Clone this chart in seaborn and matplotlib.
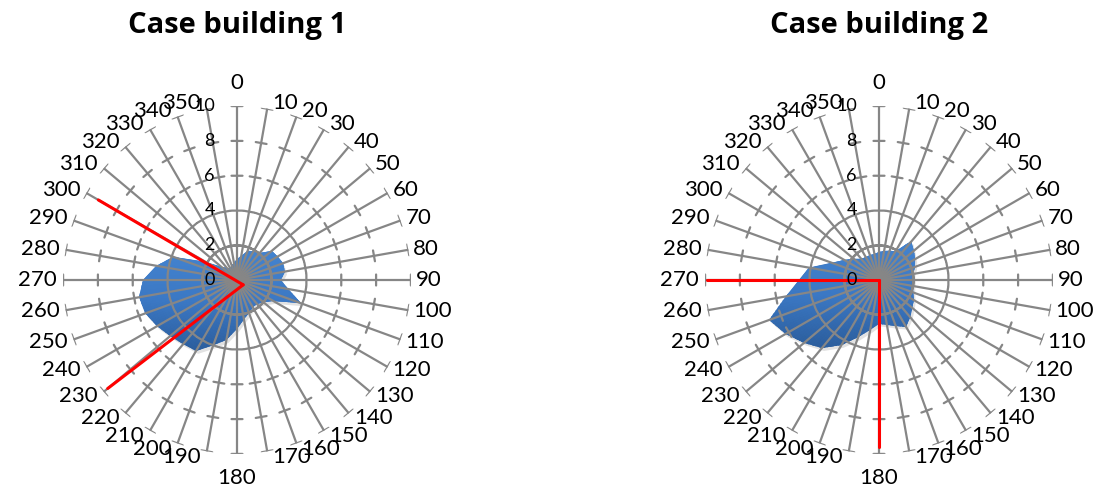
import numpy as np
import pandas as pd
import matplotlib
matplotlib.use("Agg")
import matplotlib.pyplot as plt
import matplotlib.transforms as mtransforms
from matplotlib.colors import LinearSegmentedColormap
import seaborn as sns

# wind directions (deg) and values
directions = list(range(0, 360, 10))
building_1 = [1.2, 1.4, 1.8, 1.9, 2.0, 2.6, 2.7, 2.8, 2.8, 2.5, 3.0, 3.9,
              2.4, 2.0, 1.8, 1.8, 2.0, 2.3, 2.8, 3.5, 4.0, 4.7, 4.8, 5.0,
              5.3, 5.6, 5.7, 5.4, 4.7, 3.9, 2.1, 1.2, 0.9, 0.8, 0.9, 1.0]
building_2 = [1.6, 1.7, 1.8, 1.9, 2.9, 2.6, 2.4, 2.2, 2.0, 2.0, 2.0, 2.1,
              2.3, 2.5, 2.8, 3.1, 2.8, 2.6, 2.5, 2.9, 3.5, 4.3, 5.1, 5.6,
              6.2, 6.7, 5.4, 4.6, 4.1, 2.9, 2.3, 1.9, 1.6, 1.5, 1.5, 1.5]

# red orientation lines: common start (direction, radius), directions, lengths
red_start_1 = (128, 0.45)
red_dirs_1 = [300, 230]
red_len_1 = [9.2, 9.7]
red_start_2 = (0, 0.0)
red_dirs_2 = [270, 180]
red_len_2 = [9.9, 9.6]

r_ticks = [0, 2, 4, 6, 8, 10]
dir_labels = [str(d) for d in directions]
titles = ["Case building 1", "Case building 2"]

sns.set_theme(style="white")
plt.rcParams["font.family"] = ["Lato", "DejaVu Sans"]

GRID = "#868686"
W, H = 1105, 490
R_PX = 174
PT = 0.72  # points per pixel at dpi 100
grad = LinearSegmentedColormap.from_list("fillgrad", ["#2b5d9c", "#3b78c4", "#4383cf"])

fig = plt.figure(figsize=(W / 100, H / 100), dpi=100)


def radar(cx, cy, values, red_start, red_dirs, red_len, title):
    ax = fig.add_axes([(cx - R_PX) / W, (H - cy - R_PX) / H,
                       2 * R_PX / W, 2 * R_PX / H], projection="polar")
    ax.set_theta_zero_location("N")
    ax.set_theta_direction(-1)
    ax.set_axisbelow(False)
    theta = np.deg2rad(directions)
    tc = np.append(theta, theta[0])
    vc = np.append(values, values[0])

    # soft shadow + filled area with vertical gradient
    shadow = mtransforms.offset_copy(ax.transData, fig=fig, x=2, y=-3, units="dots")
    ax.fill(tc, vc, color="#a0a0a0", alpha=0.3, lw=0, transform=shadow, zorder=1)
    poly = ax.fill(tc, vc, color="#3670bb", lw=0, zorder=1.1)[0]
    tg = np.linspace(0, 2 * np.pi, 241)
    rg = np.linspace(0, 10, 61)
    T, RR = np.meshgrid(tg, rg)
    Y = (RR * np.cos(T))[:-1, :-1]
    ys = np.asarray(values) * np.cos(theta)
    mesh = ax.pcolormesh(T, RR, Y, cmap=grad, vmin=ys.min(), vmax=ys.max(),
                         shading="flat", antialiased=False, zorder=1.2)
    mesh.set_clip_path(poly)

    # spokes
    ax.set_thetagrids(directions, labels=[""] * len(directions))
    ax.xaxis.grid(True, color=GRID, lw=1.6)
    ax.yaxis.grid(False)
    ax.tick_params(axis="x", pad=0)
    ax.spines["polar"].set_visible(False)

    # small cross ticks on every spoke
    for r in r_ticks[1:]:
        half = 5.5 / (R_PX / 10 * r)
        tt, rr = [], []
        for t in theta:
            tt += [t - half, t + half, np.nan]
            rr += [r, r, np.nan]
        ax.plot(tt, rr, color=GRID, lw=1.6, zorder=2.6)

    # orientation lines
    red = pd.DataFrame({
        "theta": np.deg2rad(np.ravel([[red_start[0], d] for d in red_dirs])),
        "r": np.ravel([[red_start[1], ln] for ln in red_len]),
        "line": np.repeat(range(len(red_dirs)), 2),
    })
    sns.lineplot(data=red, x="theta", y="r", units="line", estimator=None,
                 sort=False, color="#ff0000", lw=2.2, ax=ax, legend=False, zorder=3)

    ax.set_xlabel("")
    ax.set_ylabel("")
    ax.set_yticks([])
    ax.set_xlim(0, 2 * np.pi)
    ax.set_ylim(0, 10)

    # direction labels, placed the way the spreadsheet chart does
    for d, lab, t in zip(directions, dir_labels, theta):
        if d == 0:
            off, ha = (0, 23), "center"
        elif d == 180:
            off, ha = (0, -24), "center"
        elif d < 180:
            off, ha = (5, 6 * np.cos(t)), "left"
        else:
            off, ha = (-6, 6 * np.cos(t)), "right"
        ax.annotate(lab, xy=(t, 10), xytext=(off[0] * PT, off[1] * PT),
                    textcoords="offset points", ha=ha, va="center",
                    fontsize=16, color="black", zorder=4, annotation_clip=False)

    for r in r_ticks:
        ax.annotate(str(r), xy=(0, r), xytext=(-16, 0), textcoords="offset points",
                    ha="right", va="center", fontsize=13, color="black", zorder=4)

    fig.text(cx / W, 1 - 25 / H, title, ha="center", va="center", color="black",
             fontsize=21, fontweight="bold", family=["Open Sans", "DejaVu Sans"])
    return ax


radar(237, 280, building_1, red_start_1, red_dirs_1, red_len_1, titles[0])
radar(879, 280, building_2, red_start_2, red_dirs_2, red_len_2, titles[1])

fig.savefig("out.png", dpi=100, facecolor="white")
